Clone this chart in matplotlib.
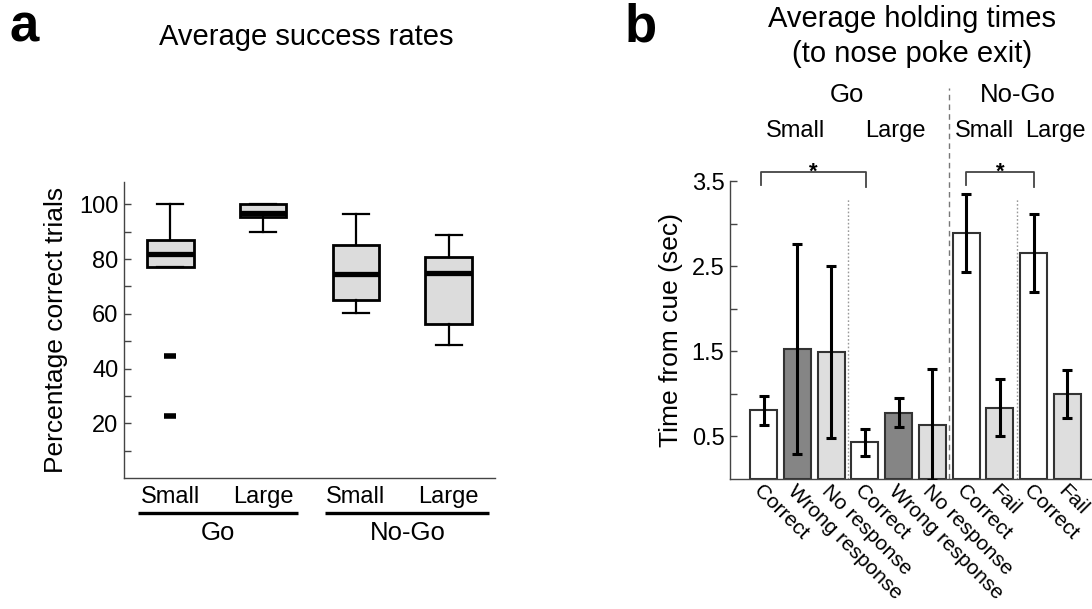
import numpy as np
import matplotlib.pyplot as plt
import matplotlib.transforms as mtransforms

plt.rcParams['font.family'] = ['Liberation Sans', 'DejaVu Sans']

# ---- panel a : success rates (box plot summaries) ----
box_labels = ['Small', 'Large', 'Small', 'Large']
box_whislo = [77.0, 90.0, 60.4, 48.5]
box_q1 = [77.0, 95.4, 65.0, 56.4]
box_med = [81.8, 96.9, 74.4, 75.0]
box_q3 = [86.9, 100.0, 85.3, 80.8]
box_whishi = [100.0, 100.0, 96.6, 88.7]
box_fliers = [[44.6, 22.5], [], [], []]

# ---- panel b : holding times ----
bar_labels = ['Correct', 'Wrong response', 'No response',
              'Correct', 'Wrong response', 'No response',
              'Correct', 'Fail', 'Correct', 'Fail']
bar_means = [0.81, 1.53, 1.49, 0.43, 0.78, 0.64, 2.89, 0.84, 2.66, 1.00]
bar_errs = [0.17, 1.24, 1.01, 0.16, 0.17, 0.65, 0.46, 0.34, 0.46, 0.28]
bar_kind = ['w', 'd', 'l', 'w', 'd', 'l', 'w', 'l', 'w', 'l']

fill = {'w': 'white', 'd': '#858585', 'l': '#dedede'}
spine_col = '#444444'

fig = plt.figure(figsize=(10.92, 6.09), dpi=100)

# ================= panel a =================
axa = fig.add_axes([0.1136, 0.2151, 0.3397, 0.4854])
stats = []
for i in range(4):
    stats.append(dict(med=box_med[i], q1=box_q1[i], q3=box_q3[i],
                      whislo=box_whislo[i], whishi=box_whishi[i],
                      fliers=box_fliers[i]))
axa.bxp(stats, positions=[1, 2, 3, 4], widths=0.5, patch_artist=True,
        boxprops=dict(facecolor='#dcdcdc', edgecolor='black', linewidth=2.0),
        medianprops=dict(color='black', linewidth=3.8, solid_capstyle='butt'),
        whiskerprops=dict(color='black', linewidth=1.6),
        capprops=dict(color='black', linewidth=1.6),
        capwidths=0.28,
        flierprops=dict(marker='_', markersize=8, markeredgewidth=4,
                        markeredgecolor='black'))
axa.set_xlim(0.5, 4.5)
axa.set_ylim(0, 108)
axa.set_yticks([20, 40, 60, 80, 100])
axa.set_yticks([10, 30, 50, 70, 90], minor=True)
axa.tick_params(axis='y', which='both', direction='in', length=5,
                width=1, color=spine_col, labelsize=17, pad=4)
axa.tick_params(axis='x', length=0, labelsize=17, pad=6)
axa.set_xticks([1, 2, 3, 4])
axa.set_xticklabels(box_labels)
for s in ['top', 'right']:
    axa.spines[s].set_visible(False)
for s in ['left', 'bottom']:
    axa.spines[s].set_color(spine_col)
    axa.spines[s].set_linewidth(1)
axa.set_ylabel('Percentage correct trials', fontsize=19, labelpad=8)

ta = mtransforms.blended_transform_factory(axa.transData, axa.transAxes)
axa.plot([0.655, 2.38], [-0.119, -0.119], color='black', lw=2.4,
         transform=ta, clip_on=False, solid_capstyle='butt')
axa.plot([2.67, 4.43], [-0.119, -0.119], color='black', lw=2.4,
         transform=ta, clip_on=False, solid_capstyle='butt')
axa.text(1.51, -0.187, 'Go', transform=ta, ha='center', va='center', fontsize=18.5)
axa.text(3.56, -0.187, 'No-Go', transform=ta, ha='center', va='center', fontsize=18.5)

fig.text(0.2807, 0.926, 'Average success rates', ha='center', va='baseline', fontsize=21)
fig.text(0.009, 0.932, 'a', ha='left', va='baseline', fontsize=38, fontweight='bold')

# ================= panel b =================
axb = fig.add_axes([0.6685, 0.2135, 0.3315, 0.4885])
x = np.arange(1, len(bar_means) + 1)
axb.bar(x, bar_means, width=0.8, color=[fill[k] for k in bar_kind],
        edgecolor='#333333', linewidth=1.5, zorder=2)
axb.errorbar(x, bar_means, yerr=bar_errs, fmt='none', ecolor='black',
             elinewidth=2.2, capsize=3.5, capthick=2.2, zorder=3)
axb.set_xlim(0, 10.73)
axb.set_ylim(0, 3.5)
axb.set_yticks([0.5, 1.5, 2.5, 3.5])
axb.set_yticklabels(['0.5', '1.5', '2.5', '3.5'])
axb.set_yticks([1.0, 2.0, 3.0], minor=True)
axb.tick_params(axis='y', which='both', direction='in', length=5,
                width=1, color=spine_col, labelsize=17, pad=4)
axb.set_xticks(x)
axb.set_xticklabels(bar_labels, rotation=-45, ha='left', va='top',
                    rotation_mode='anchor', fontsize=15)
axb.tick_params(axis='x', length=0, pad=2)
for s in ['top', 'right']:
    axb.spines[s].set_visible(False)
for s in ['left', 'bottom']:
    axb.spines[s].set_color(spine_col)
    axb.spines[s].set_linewidth(1)
axb.set_ylabel('Time from cue (sec)', fontsize=19, labelpad=6)

tb = mtransforms.blended_transform_factory(axb.transData, axb.transAxes)
# Go / No-Go separator and reward-size separators
axb.plot([6.5, 6.5], [0, 1.314], transform=tb, color='#777777', lw=1,
         ls=(0, (4, 3)), clip_on=False, zorder=1)
for xs in [3.5, 8.5]:
    axb.plot([xs, xs], [0, 3.3], color='#999999', lw=1, ls=(0, (1.2, 1.5)),
             zorder=1)

# significance brackets
for x0, x1 in [(0.91, 4.04), (7.0, 9.0)]:
    axb.plot([x0, x0, x1, x1], [3.46, 3.615, 3.615, 3.44], color='#444444',
             lw=1.3, clip_on=False)
    axb.text((x0 + x1) / 2, 3.54, '*', ha='center', va='baseline',
             fontsize=16, fontweight='bold')

axb.text(3.48, 1.268, 'Go', transform=tb, ha='center', va='baseline', fontsize=18.5)
axb.text(8.54, 1.268, 'No-Go', transform=tb, ha='center', va='baseline', fontsize=18.5)
for xp, lab in zip([1.93, 4.9, 7.55, 9.64], ['Small', 'Large', 'Small', 'Large']):
    axb.text(xp, 1.1486, lab, transform=tb, ha='center', va='baseline', fontsize=17)

fig.text(0.8352, 0.956, 'Average holding times', ha='center', va='baseline', fontsize=21)
fig.text(0.8352, 0.899, '(to nose poke exit)', ha='center', va='baseline', fontsize=21)
fig.text(0.5723, 0.932, 'b', ha='left', va='baseline', fontsize=38, fontweight='bold')

fig.savefig('out.png', dpi=100)
